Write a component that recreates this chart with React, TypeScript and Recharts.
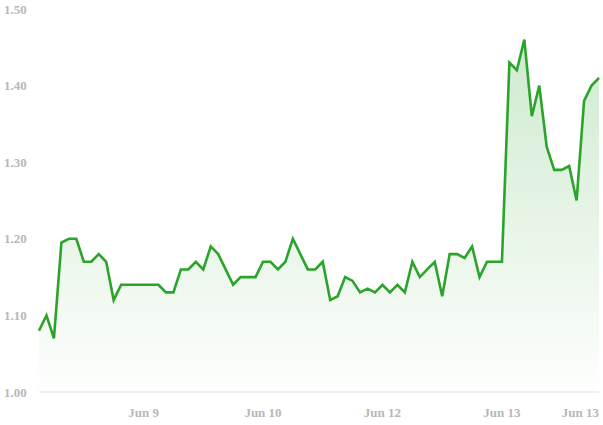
import { AreaChart, Area, XAxis, YAxis } from "recharts";

// price per point, read left to right
const prices = [
  1.08, 1.1, 1.07, 1.195, 1.2, 1.2, 1.17, 1.17, 1.18, 1.17,
  1.12, 1.14, 1.14, 1.14, 1.14, 1.14, 1.14, 1.13, 1.13, 1.16,
  1.16, 1.17, 1.16, 1.19, 1.18, 1.16, 1.14, 1.15, 1.15, 1.15,
  1.17, 1.17, 1.16, 1.17, 1.2, 1.18, 1.16, 1.16, 1.17, 1.12,
  1.125, 1.15, 1.145, 1.13, 1.135, 1.13, 1.14, 1.13, 1.14, 1.13,
  1.17, 1.15, 1.16, 1.17, 1.125, 1.18, 1.18, 1.175, 1.19, 1.15,
  1.17, 1.17, 1.17, 1.43, 1.42, 1.46, 1.36, 1.4, 1.32, 1.29,
  1.29, 1.295, 1.25, 1.38, 1.4, 1.41,
];

const xTickIndex = [14, 30, 46, 62, 75];
const xTickLabels = ["Jun 9", "Jun 10", "Jun 12", "Jun 13", "Jun 13"];
const yTicks = [1.0, 1.1, 1.2, 1.3, 1.4, 1.5];

const LINE = "#2ba42b";
const LABEL = "#b8b8b8";
const FONT = "'Liberation Serif', 'Times New Roman', serif";

const chartData = prices.map((price, i) => ({ i, price }));

function XTick(props: any) {
  const { x, y, payload } = props;
  const pos = xTickIndex.indexOf(payload.value);
  const isLast = pos === xTickIndex.length - 1;
  return (
    <text
      x={x}
      y={y + 25}
      textAnchor={isLast ? "end" : "middle"}
      fill={LABEL}
      fontSize={13}
      fontWeight="bold"
      fontFamily={FONT}
    >
      {xTickLabels[pos]}
    </text>
  );
}

function YTick(props: any) {
  const { y, payload } = props;
  return (
    <text
      x={4}
      y={y}
      dy="0.35em"
      textAnchor="start"
      fill={LABEL}
      fontSize={13}
      fontWeight="bold"
      fontFamily={FONT}
    >
      {payload.value.toFixed(2)}
    </text>
  );
}

export default function App() {
  return (
    <div style={{ position: "absolute", left: 0, top: 0, background: "#fff" }}>
      <AreaChart
        width={603}
        height={425}
        data={chartData}
        margin={{ top: 9, right: 4, left: 0, bottom: 0 }}
      >
        <defs>
          <linearGradient id="priceFill" x1="0" y1="0" x2="0" y2="1">
            <stop offset="0%" stopColor={LINE} stopOpacity={0.38} />
            <stop offset="100%" stopColor={LINE} stopOpacity={0.01} />
          </linearGradient>
        </defs>
        <XAxis
          dataKey="i"
          type="number"
          domain={[0, 75]}
          ticks={xTickIndex}
          interval={0}
          height={33}
          tickLine={false}
          tickSize={0}
          tickMargin={0}
          axisLine={{ stroke: "#e0e0e0", strokeWidth: 1 }}
          tick={<XTick />}
        />
        <YAxis
          domain={[1.0, 1.5]}
          ticks={yTicks}
          width={39}
          axisLine={false}
          tickLine={false}
          tick={<YTick />}
        />
        <Area
          type="linear"
          dataKey="price"
          baseValue={1.0}
          stroke={LINE}
          strokeWidth={2.6}
          fill="url(#priceFill)"
          isAnimationActive={false}
        />
      </AreaChart>
    </div>
  );
}
